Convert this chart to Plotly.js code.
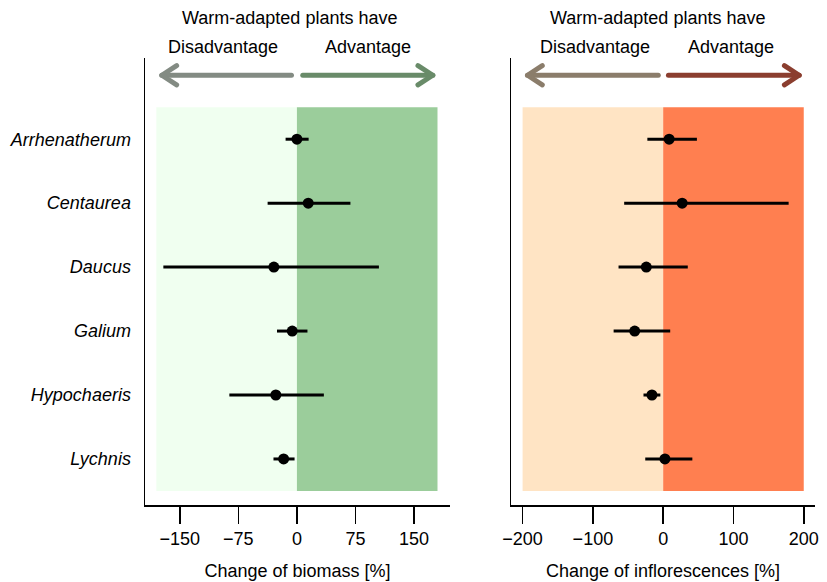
<!DOCTYPE html>
<html>
<head>
<meta charset="utf-8">
<script src="https://cdn.plot.ly/plotly-3.0.1.min.js"></script>
<style>html,body{margin:0;padding:0;background:#fff;}</style>
</head>
<body>
<div id="chart" style="width:827px;height:582px;"></div>
<script>
// ---- data ----
const species = ["Arrhenatherum", "Centaurea", "Daucus", "Galium", "Hypochaeris", "Lychnis"];

const biomassMean = [0, 14.5, -29.5, -6, -27, -17];
const biomassLow  = [-14.5, -37.5, -171, -25.5, -86.5, -30];
const biomassHigh = [15, 68.5, 105, 13.5, 34.5, -3];

const inflMean = [8.5, 27, -24, -40.5, -16, 2.5];
const inflLow  = [-22.5, -55.5, -63.5, -70.5, -28, -25.5];
const inflHigh = [48, 178.5, 35, 10, -4, 41.5];

const biomassTicks = [-150, -75, 0, 75, 150];
const inflTicks = [-200, -100, 0, 100, 200];

// ---- styling ----
const FONT = "Liberation Sans, Arial, Helvetica, sans-serif";
const W = 827, H = 582;
const yIdx = species.map((_, i) => i);

function pointTrace(mean, lo, hi, xa, ya) {
  return {
    type: "scatter", mode: "markers",
    x: mean, y: yIdx, xaxis: xa, yaxis: ya,
    marker: {color: "#000", size: 11},
    error_x: {
      type: "data", symmetric: false,
      array: hi.map((h, i) => h - mean[i]),
      arrayminus: lo.map((l, i) => mean[i] - l),
      color: "#000", thickness: 3, width: 0
    },
    hoverinfo: "skip"
  };
}

function arrowTraces(xa, ya, x0, x1, dx, color, yv) {
  const dy = 0.15;
  const dir = Math.sign(x1 - x0);
  return [{
    type: "scatter", mode: "lines", xaxis: xa, yaxis: ya,
    x: [x0, x1, null, x1 - dir * dx, x1, x1 - dir * dx],
    y: [yv, yv, null, yv - dy, yv, yv + dy],
    line: {color: color, width: 5},
    hoverinfo: "skip"
  }];
}

const arrowY = -1;
const traces = [
  pointTrace(biomassMean, biomassLow, biomassHigh, "x", "y"),
  pointTrace(inflMean, inflLow, inflHigh, "x2", "y2"),
  ...arrowTraces("x", "y", -7, -173, 19, "#838B83", arrowY),
  ...arrowTraces("x", "y", 7.5, 174, 19, "#698B69", arrowY),
  ...arrowTraces("x2", "y2", -7, -193, 21, "#8B7D6B", arrowY),
  ...arrowTraces("x2", "y2", 7.5, 193.5, 21, "#8B3E2F", arrowY)
];

const yDomain = [1 - 505 / H, 1 - 58 / H];
const yRange = [5.72, -1.27];

const xBase = {
  showgrid: false, zeroline: false, showline: true, linecolor: "#000", linewidth: 1.5,
  ticks: "outside", ticklen: 17, tickwidth: 1.5, tickcolor: "#000",
  tickfont: {family: FONT, size: 18, color: "#000"},
  fixedrange: true
};
const yBase = {
  showgrid: false, zeroline: false, showline: true, linecolor: "#000", linewidth: 1.5,
  domain: yDomain, range: yRange, tickvals: yIdx,
  ticks: "outside", ticklen: 9, tickcolor: "rgba(0,0,0,0)",
  tickfont: {family: FONT, size: 18, color: "#000"},
  fixedrange: true
};

function shade(xr, yr, x0, x1, color) {
  return {type: "rect", xref: xr, yref: yr, x0: x0, x1: x1, y0: -0.5, y1: 5.5,
          fillcolor: color, line: {width: 0}, layer: "below"};
}

function ann(text, px, py) {
  return {text: text, xref: "paper", yref: "paper", x: px / W, y: 1 - py / H,
          xanchor: "center", yanchor: "middle", showarrow: false,
          font: {family: FONT, size: 18, color: "#000"}};
}

const layout = {
  width: W, height: H,
  margin: {l: 0, r: 0, t: 0, b: 0},
  paper_bgcolor: "#fff", plot_bgcolor: "rgba(0,0,0,0)",
  showlegend: false,
  font: {family: FONT, size: 18, color: "#000"},
  xaxis: Object.assign({}, xBase, {
    domain: [145 / W, 450 / W], range: [-194.5, 196], anchor: "y",
    tickvals: biomassTicks,
    title: {text: "Change of biomass [%]", standoff: 16, font: {family: FONT, size: 18, color: "#000"}}
  }),
  yaxis: Object.assign({}, yBase, {
    anchor: "x",
    ticktext: species.map(s => "<i>" + s + "</i>")
  }),
  xaxis2: Object.assign({}, xBase, {
    domain: [511 / W, 815 / W], range: [-216.5, 216], anchor: "y2",
    tickvals: inflTicks,
    title: {text: "Change of inflorescences [%]", standoff: 16, font: {family: FONT, size: 18, color: "#000"}}
  }),
  yaxis2: Object.assign({}, yBase, {
    anchor: "x2", showticklabels: false
  }),
  shapes: [
    shade("x", "y", -180, 0, "#F0FFF0"),
    shade("x", "y", 0, 180, "#9BCD9B"),
    shade("x2", "y2", -200, 0, "#FFE4C4"),
    shade("x2", "y2", 0, 200, "#FF7F50")
  ],
  annotations: [
    ann("Warm-adapted plants have", 289, 18),
    ann("Disadvantage", 223, 47),
    ann("Advantage", 368, 47),
    ann("Warm-adapted plants have", 657.5, 18),
    ann("Disadvantage", 595, 47),
    ann("Advantage", 731, 47)
  ]
};

Plotly.newPlot("chart", traces, layout, {staticPlot: true, displayModeBar: false}).then(() => {
  document.querySelectorAll(".scatterlayer .js-line").forEach(p => {
    p.style.strokeLinecap = "round";
    p.style.strokeLinejoin = "round";
  });
});
</script>
</body>
</html>
